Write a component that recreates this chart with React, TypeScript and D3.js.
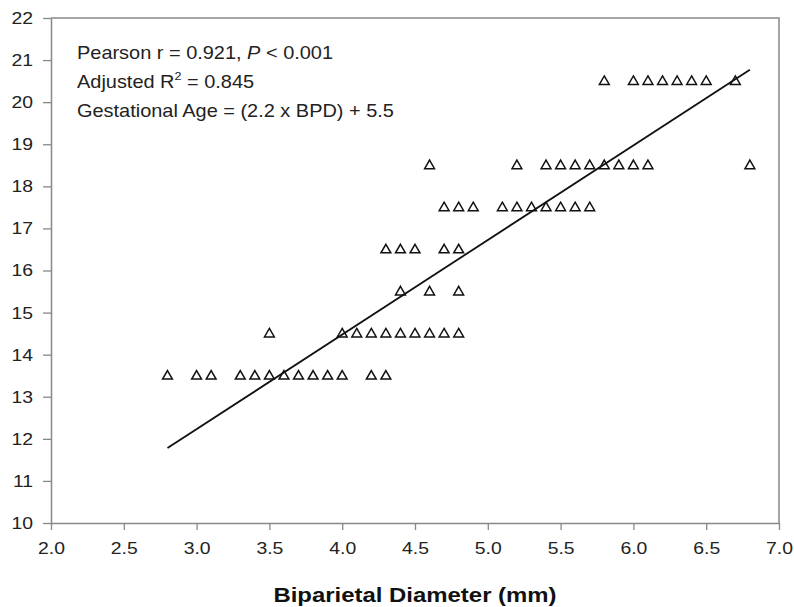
import {
  select,
  scaleLinear,
  axisLeft,
  axisBottom,
  line,
  symbol,
  symbolTriangle,
  format,
} from "d3";
import React, { useEffect, useRef } from "react";

// biparietal diameter (mm) per gestational age row
const ga135 = [2.8, 3.0, 3.1, 3.3, 3.4, 3.5, 3.6, 3.7, 3.8, 3.9, 4.0, 4.2, 4.3];
const ga145 = [3.5, 4.0, 4.1, 4.2, 4.3, 4.4, 4.5, 4.6, 4.7, 4.8];
const ga155 = [4.4, 4.6, 4.8];
const ga165 = [4.3, 4.4, 4.5, 4.7, 4.8];
const ga175 = [4.7, 4.8, 4.9, 5.1, 5.2, 5.3, 5.4, 5.5, 5.6, 5.7];
const ga185 = [4.6, 5.2, 5.4, 5.5, 5.6, 5.7, 5.8, 5.9, 6.0, 6.1, 6.8];
const ga205 = [5.8, 6.0, 6.1, 6.2, 6.3, 6.4, 6.5, 6.7];

const rows = [
  { age: 13.5, bpd: ga135 },
  { age: 14.5, bpd: ga145 },
  { age: 15.5, bpd: ga155 },
  { age: 16.5, bpd: ga165 },
  { age: 17.5, bpd: ga175 },
  { age: 18.5, bpd: ga185 },
  { age: 20.5, bpd: ga205 },
];

// regression line ends as drawn
const fitX = [2.8, 6.8];
const fitY = [11.78, 20.77];

const xTicks = [2.0, 2.5, 3.0, 3.5, 4.0, 4.5, 5.0, 5.5, 6.0, 6.5, 7.0];
const yTicks = [10, 11, 12, 13, 14, 15, 16, 17, 18, 19, 20, 21, 22];

const width = 794;
const height = 607;
const margin = { top: 18, right: 15, bottom: 84, left: 51 };
const stretch = 1.14;
const font = "'Liberation Sans', Arial, sans-serif";
const axisColor = "#888";

const App = () => {
  const svgRef = useRef(null);

  useEffect(() => {
    const svg = select(svgRef.current);
    svg.selectAll("*").remove();

    const x = scaleLinear()
      .domain([2, 7])
      .range([margin.left, width - margin.right]);
    const y = scaleLinear()
      .domain([10, 22])
      .range([height - margin.bottom, margin.top]);

    // frame (top + right)
    svg
      .append("path")
      .attr(
        "d",
        `M${x(2)},${y(22)}H${x(7)}V${y(10)}`
      )
      .attr("fill", "none")
      .attr("stroke", axisColor)
      .attr("stroke-width", 1.5);

    const styleAxis = (g) => {
      g.select(".domain").attr("stroke", axisColor).attr("stroke-width", 1.5);
      g.selectAll(".tick line").attr("stroke", axisColor).attr("stroke-width", 1.3);
      g.selectAll(".tick text")
        .attr("fill", "#222")
        .style("font-family", font)
        .style("font-size", "17px")
        .attr("transform", `scale(${stretch},1)`);
    };

    svg
      .append("g")
      .attr("transform", `translate(0,${y(10)})`)
      .call(
        axisBottom(x)
          .tickValues(xTicks)
          .tickFormat(format(".1f"))
          .tickSize(7)
          .tickSizeOuter(0)
          .tickPadding(12)
      )
      .call(styleAxis);

    svg
      .append("g")
      .attr("transform", `translate(${x(2)},0)`)
      .call(
        axisLeft(y)
          .tickValues(yTicks)
          .tickFormat(format("d"))
          .tickSize(8)
          .tickSizeOuter(0)
          .tickPadding(7.8)
      )
      .call(styleAxis);

    // regression line
    const fit = fitX.map((v, i) => [v, fitY[i]]);
    svg
      .append("path")
      .datum(fit)
      .attr("d", line().x((d) => x(d[0])).y((d) => y(d[1])))
      .attr("fill", "none")
      .attr("stroke", "#111")
      .attr("stroke-width", 1.8);

    // points
    const points = rows.flatMap((r) => r.bpd.map((b) => ({ bpd: b, age: r.age })));
    const tri = symbol().type(symbolTriangle).size(42);
    svg
      .selectAll(".pt")
      .data(points)
      .enter()
      .append("path")
      .classed("pt", true)
      .attr("d", tri)
      .attr("transform", (d) => `translate(${x(d.bpd)},${y(d.age) + 0.5})`)
      .attr("fill", "none")
      .attr("stroke", "#111")
      .attr("stroke-width", 1.5);

    // annotation
    const note = svg
      .append("g")
      .style("font-family", font)
      .style("font-size", "17.5px")
      .attr("fill", "#222");

    const t1 = note
      .append("text")
      .attr("transform", `translate(77,59) scale(${stretch},1)`);
    t1.append("tspan").text("Pearson r = 0.921, ");
    t1.append("tspan").style("font-style", "italic").text("P");
    t1.append("tspan").text(" < 0.001");

    const t2 = note
      .append("text")
      .attr("transform", `translate(77,88) scale(${stretch},1)`);
    t2.append("tspan").text("Adjusted R");
    t2.append("tspan").attr("dy", -8).style("font-size", "11px").text("2");
    t2.append("tspan").attr("dy", 8).text(" = 0.845");

    note
      .append("text")
      .attr("transform", `translate(77,117) scale(${stretch},1)`)
      .text("Gestational Age = (2.2 x BPD) + 5.5");

    // axis title
    svg
      .append("text")
      .attr("transform", `translate(${(x(2) + x(7)) / 2},601.5) scale(${stretch},1)`)
      .attr("text-anchor", "middle")
      .style("font-family", font)
      .style("font-size", "21px")
      .style("font-weight", "bold")
      .attr("fill", "#111")
      .text("Biparietal Diameter (mm)");
  }, []);

  return (
    <svg
      ref={svgRef}
      width={width}
      height={height}
      style={{ position: "absolute", left: 0, top: 0, background: "#fff" }}
    />
  );
};

export default App;
